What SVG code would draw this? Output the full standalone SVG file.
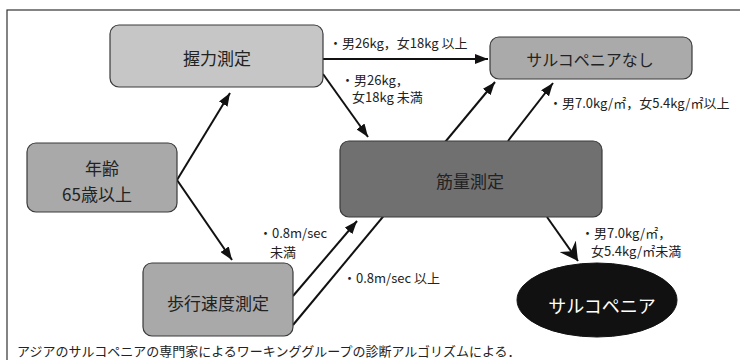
<svg xmlns="http://www.w3.org/2000/svg" width="740" height="360" viewBox="0 0 740 360">
<style>
.node{stroke:#3a3a3a;stroke-width:1.2}
.t{font-family:"Noto Sans CJK JP","Noto Sans",sans-serif;fill:#222;text-anchor:middle;dominant-baseline:central}
.nt{font-size:17px}
.lb{font-family:"Noto Sans CJK JP","Noto Sans",sans-serif;fill:#222;font-size:13px;dominant-baseline:central}
.cn{stroke:#111;stroke-width:2;fill:none}
</style>
<defs>
<marker id="ah" markerUnits="userSpaceOnUse" markerWidth="13" markerHeight="10" refX="13" refY="5" orient="auto">
<path d="M0,0 L13,5 L0,10 z" fill="#111"/>
</marker>
<marker id="ahb" markerUnits="userSpaceOnUse" markerWidth="20" markerHeight="20" refX="18" refY="10" orient="auto">
<path d="M0,0 L18,10 L0,20 L6,10 z" fill="#111"/>
</marker>
</defs>
<rect x="7" y="10" width="760" height="360" fill="#fff" stroke="#333" stroke-width="1.2"/>
<g id="connectors">
<line class="cn" x1="177" y1="180" x2="230" y2="93" marker-end="url(#ah)"/>
<line class="cn" x1="177" y1="180" x2="232" y2="260" marker-end="url(#ah)"/>
<line class="cn" x1="323" y1="59" x2="488" y2="59" marker-end="url(#ah)"/>
<line class="cn" x1="323" y1="74" x2="368" y2="137" marker-end="url(#ah)"/>
<line class="cn" x1="293" y1="325" x2="495" y2="82" marker-end="url(#ah)"/>
<line class="cn" x1="508" y1="141" x2="553" y2="83" marker-end="url(#ah)"/>
<line class="cn" x1="293" y1="296" x2="357" y2="221" marker-end="url(#ah)"/>
<line class="cn" x1="547" y1="217" x2="578" y2="261" stroke-width="4" marker-end="url(#ahb)"/>
</g>
<g id="n-grip">
<rect class="node" x="110" y="25" width="213" height="62" rx="9" fill="#c6c6c6"/>
<text class="t nt" x="217" y="57">握力測定</text>
</g>
<g id="n-age">
<rect class="node" x="27" y="143" width="150" height="69" rx="9" fill="#a9a9a9"/>
<text class="t nt" x="102" y="167">年齢</text>
<text class="t nt" x="97" y="193">65歳以上</text>
</g>
<g id="n-walk">
<rect class="node" x="143" y="263" width="150" height="73" rx="9" fill="#a9a9a9"/>
<text class="t nt" x="218" y="302">歩行速度測定</text>
</g>
<g id="n-none">
<rect class="node" x="490" y="37" width="202" height="42" rx="9" fill="#aaaaaa"/>
<text class="t" style="font-size:16px" x="590" y="59">サルコペニアなし</text>
</g>
<g id="n-muscle">
<rect class="node" x="340" y="141" width="262" height="76" rx="9" fill="#707070"/>
<text class="t nt" x="470" y="180">筋量測定</text>
</g>
<g id="n-sarco">
<ellipse cx="597" cy="300" rx="80" ry="37" fill="#111" stroke="#111"/>
<text class="t" style="font-size:18px;fill:#fff" x="602" y="305">サルコペニア</text>
</g>
<g id="labels">
<text class="lb" x="329" y="42">・男26kg，女18kg 以上</text>
<text class="lb" x="341" y="79">・男26kg，</text>
<text class="lb" x="352" y="96">女18kg 未満</text>
<text class="lb" x="549" y="102">・男7.0kg/㎡，女5.4kg/㎡以上</text>
<text class="lb" x="259" y="232">・0.8m/sec</text>
<text class="lb" x="270" y="251">未満</text>
<text class="lb" x="343" y="277">・0.8m/sec 以上</text>
<text class="lb" x="581" y="232">・男7.0kg/㎡，</text>
<text class="lb" x="591" y="250">女5.4kg/㎡未満</text>
<text class="lb" x="17" y="350">アジアのサルコペニアの専門家によるワーキンググループの診断アルゴリズムによる．</text>
</g>
</svg>
